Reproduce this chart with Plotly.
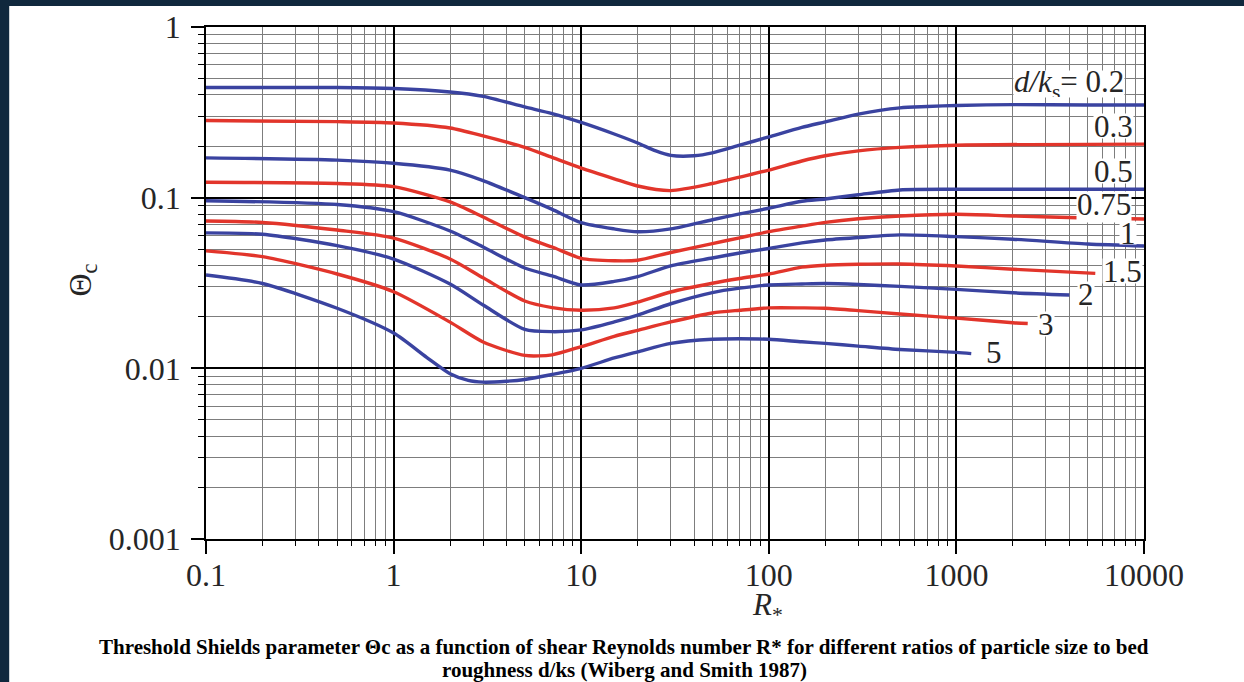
import plotly.graph_objects as go

# Shields threshold curves: critical Shields parameter vs shear Reynolds number R*
# for several ratios d/ks of particle size to bed roughness (Wiberg & Smith 1987).

rs_02 = [0.1, 0.5, 1, 2, 3, 5, 7, 10, 15, 20, 25, 30, 40, 50, 70, 100, 150, 200, 300, 500, 700, 1000, 2000, 5000, 10000]
th_02 = [0.442, 0.442, 0.436, 0.416, 0.392, 0.340, 0.311, 0.276, 0.236, 0.209, 0.188, 0.177, 0.176, 0.183, 0.203, 0.227,
         0.258, 0.278, 0.309, 0.336, 0.342, 0.347, 0.351, 0.349, 0.349]

rs_03 = [0.1, 0.5, 1, 2, 3, 5, 7, 10, 15, 20, 30, 50, 70, 100, 150, 200, 300, 500, 1000, 10000]
th_03 = [0.283, 0.279, 0.274, 0.256, 0.230, 0.197, 0.172, 0.149, 0.129, 0.117, 0.110, 0.121, 0.132, 0.145, 0.164,
         0.176, 0.188, 0.197, 0.203, 0.206]

rs_05 = [0.1, 0.5, 1, 2, 3, 5, 7, 10, 15, 20, 30, 50, 70, 100, 150, 200, 300, 500, 1000, 10000]
th_05 = [0.171, 0.166, 0.159, 0.145, 0.126, 0.100, 0.0854, 0.0714, 0.0656, 0.0631, 0.0656, 0.0742, 0.0803, 0.0867,
         0.0953, 0.0983, 0.104, 0.111, 0.112, 0.112]

rs_075 = [0.1, 0.5, 1, 2, 3, 5, 7, 10, 15, 20, 30, 50, 70, 100, 150, 200, 300, 500, 1000, 2000, 5000, 10000]
th_075 = [0.123, 0.121, 0.116, 0.0944, 0.0771, 0.0587, 0.0514, 0.0441, 0.0427, 0.0430, 0.0477, 0.0538, 0.0582,
          0.0632, 0.0681, 0.0716, 0.0752, 0.0781, 0.0799, 0.0781, 0.0760, 0.0750]

rs_1 = [0.1, 0.5, 1, 2, 3, 5, 7, 10, 15, 20, 30, 50, 70, 100, 150, 200, 300, 500, 1000, 2000, 5000, 10000]
th_1 = [0.096, 0.0912, 0.0828, 0.0638, 0.0514, 0.0387, 0.0348, 0.0308, 0.0323, 0.0345, 0.0398, 0.0443, 0.0474,
        0.0504, 0.0543, 0.0565, 0.0584, 0.0605, 0.0591, 0.0571, 0.0535, 0.0521]

rs_15 = [0.1, 0.2, 0.5, 1, 2, 3, 5, 7, 10, 15, 20, 30, 50, 70, 100, 150, 200, 300, 500, 1000, 2000, 5500]
th_15 = [0.0730, 0.0716, 0.0646, 0.0580, 0.0437, 0.0339, 0.0248, 0.0227, 0.0219, 0.0226, 0.0244, 0.0280, 0.0315,
         0.0336, 0.0357, 0.0392, 0.0402, 0.0407, 0.0409, 0.0398, 0.0381, 0.0360]

rs_2 = [0.1, 0.2, 0.5, 1, 2, 3, 5, 7, 10, 15, 20, 30, 50, 70, 100, 150, 200, 300, 500, 1000, 2000, 4000]
th_2 = [0.0622, 0.0610, 0.0524, 0.0437, 0.0312, 0.0235, 0.0169, 0.0164, 0.0168, 0.0187, 0.0205, 0.0239, 0.0278,
        0.0295, 0.0308, 0.0312, 0.0314, 0.0310, 0.0302, 0.0290, 0.0277, 0.0269]

rs_3 = [0.1, 0.2, 0.5, 1, 2, 3, 5, 7, 10, 15, 20, 30, 50, 70, 100, 150, 200, 300, 500, 1000, 2000, 2400]
th_3 = [0.0488, 0.0451, 0.0357, 0.0281, 0.01865, 0.01427, 0.0119, 0.0120, 0.0134, 0.0154, 0.0167, 0.0187, 0.0211,
        0.0219, 0.0226, 0.0226, 0.0225, 0.0218, 0.0208, 0.0197, 0.0185, 0.0183]

rs_5 = [0.1, 0.2, 0.5, 1, 1.5, 2, 2.5, 3, 4, 5, 7, 10, 15, 20, 30, 50, 70, 100, 150, 200, 300, 500, 1000, 1200]
th_5 = [0.0352, 0.0314, 0.0225, 0.0161, 0.0116, 0.0093, 0.0085, 0.0083, 0.0084, 0.0086, 0.0092, 0.0100, 0.0115,
        0.0125, 0.0140, 0.0148, 0.0149, 0.0148, 0.0143, 0.0140, 0.0135, 0.0129, 0.0124, 0.0122]

ratios = ["0.2", "0.3", "0.5", "0.75", "1", "1.5", "2", "3", "5"]
series_x = [rs_02, rs_03, rs_05, rs_075, rs_1, rs_15, rs_2, rs_3, rs_5]
series_y = [th_02, th_03, th_05, th_075, th_1, th_15, th_2, th_3, th_5]

# axis ticks
x_major = [0.1, 1, 10, 100, 1000, 10000]
x_major_text = ["0.1", "1", "10", "100", "1000", "10000"]
y_major = [0.001, 0.01, 0.1, 1]
y_major_text = ["0.001", "0.01", "0.1", "1"]
x_minor = [m * 10 ** e for e in range(-1, 4) for m in range(2, 10)]
y_minor = [m * 10 ** e for e in range(-3, 0) for m in range(2, 10)]

BLUE = "#3a43a0"
RED = "#e2352b"
NAVY = "#10283d"
SERIF = "Liberation Serif"
INK = "#262626"

fig = go.Figure()
for i, (name, xs, ys) in enumerate(zip(ratios, series_x, series_y)):
    fig.add_trace(go.Scatter(
        x=xs, y=ys, mode="lines", name="d/ks = " + name,
        line=dict(color=BLUE if i % 2 == 0 else RED, width=3.4, shape="spline", smoothing=0.7),
        showlegend=False, hoverinfo="x+y",
    ))

axis_common = dict(
    type="log", automargin=False,
    showline=True, mirror=True, linecolor="black", linewidth=1.6,
    showgrid=True, gridcolor="black", gridwidth=1.7,
    ticks="outside", ticklen=13, tickwidth=1.5, tickcolor="black",
    tickfont=dict(family=SERIF, size=32, color=INK),
    zeroline=False,
)
minor_common = dict(tickmode="array", ticks="outside", tickwidth=1.2, tickcolor="black",
                    showgrid=True, gridcolor="#7d7d7d", gridwidth=1.3)

fig.update_xaxes(
    range=[-1, 4], tickmode="array", tickvals=x_major, ticktext=x_major_text,
    minor=dict(tickvals=x_minor, ticklen=5, **minor_common),
    ticklabelstandoff=-6,
    **axis_common,
)
fig.update_yaxes(
    range=[-3, 0], tickmode="array", tickvals=y_major, ticktext=y_major_text,
    minor=dict(tickvals=y_minor, ticklen=6, **minor_common),
    ticklabelstandoff=4,
    **axis_common,
)

label_font = dict(family=SERIF, size=31, color=INK)
# (text, log10 R*, log10 theta, x anchor, box height, vertical alignment)
curve_labels = [
    ("<i>d/k</i><sub>s</sub>= 0.2", 3.899, -0.334, "right", 26, "middle"),
    ("0.3", 3.840, -0.580, "center", 24, "middle"),
    ("0.5", 3.840, -0.844, "center", 24, "middle"),
    ("0.75", 3.787, -1.056, "center", 30, "bottom"),
    ("1", 3.915, -1.207, "center", 22, "middle"),
    ("1.5", 3.883, -1.429, "center", 24, "middle"),
    ("2", 3.691, -1.564, "center", 24, "middle"),
    ("3", 3.478, -1.740, "center", 24, "middle"),
    ("5", 3.200, -1.904, "center", 24, "middle"),
]
for text, lx, ly, anchor, h, va in curve_labels:
    fig.add_annotation(
        x=lx, y=ly, xref="x", yref="y", text=text, showarrow=False,
        xanchor=anchor, yanchor="middle", font=label_font,
        bgcolor="white", borderpad=0, height=h, valign=va,
    )

# axis titles
fig.add_annotation(
    x=-0.132, y=0.505, xref="paper", yref="paper", xanchor="center", yanchor="middle",
    text="Θ<sub>c</sub>", textangle=-90, showarrow=False,
    font=dict(family=SERIF, size=32, color=INK),
)
fig.add_annotation(
    x=0.5985, y=-0.1328, xref="paper", yref="paper", xanchor="center", yanchor="middle",
    text="<i>R</i><sub>*</sub>", showarrow=False,
    font=dict(family=SERIF, size=31, color=INK),
)

# caption, two centred lines
caption_lines = [
    "Threshold Shields parameter Θc as a function of shear Reynolds number R* for different ratios "
    "of particle size to bed",
    "roughness d/ks (Wiberg and Smith 1987)",
]
for line, cy in zip(caption_lines, [-0.2110, -0.2560]):
    fig.add_annotation(
        x=0.4457, y=cy, xref="paper", yref="paper", xanchor="center", yanchor="middle",
        text="<b>" + line + "</b>", showarrow=False,
        font=dict(family=SERIF, size=21, color="black"),
    )

# dark frame on the left and top edges of the page
fig.add_shape(type="rect", xref="paper", yref="paper", x0=-0.25, x1=-0.2098, y0=-0.3, y1=1.1,
              fillcolor=NAVY, line=dict(width=0), layer="below")
fig.add_shape(type="rect", xref="paper", yref="paper", x0=-0.25, x1=1.2, y0=1.041, y1=1.1,
              fillcolor=NAVY, line=dict(width=0), layer="below")

fig.update_layout(
    width=1244, height=682,
    margin=dict(l=206, r=100, t=27, b=143),
    paper_bgcolor="white", plot_bgcolor="white",
    font=dict(family=SERIF),
)

fig.write_html("out.html")
